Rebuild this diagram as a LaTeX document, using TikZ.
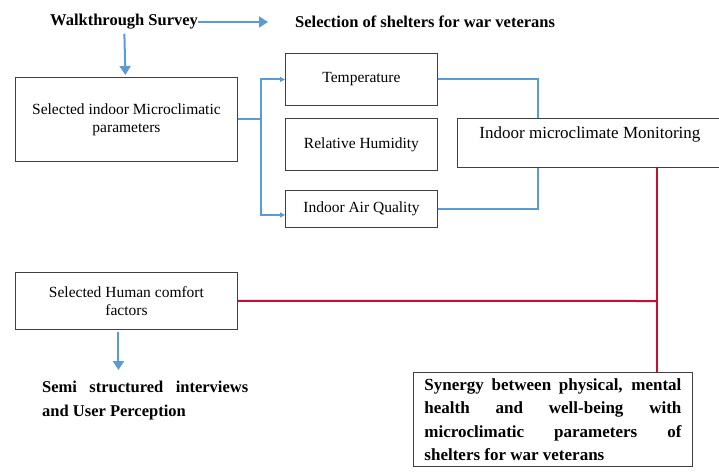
\documentclass[tikz,border=0pt]{standalone}
\usepackage{fontspec}
\setmainfont{Liberation Serif}
\usepackage{xcolor}
\usetikzlibrary{arrows.meta, positioning}
\definecolor{flowblue}{RGB}{91,155,213}
\definecolor{flowred}{RGB}{200,16,46}

\begin{document}
\begin{tikzpicture}[x=1pt, y=-1pt, inner sep=0pt,
    box/.style={draw=black!75, line width=0.9pt, align=center, anchor=north west, font=\fontsize{15.5}{18}\selectfont},
    title/.style={font=\bfseries\fontsize{16.5}{23.5}\selectfont},
    blueline/.style={draw=flowblue, line width=2pt},
    bluearrow/.style={blueline, -{Triangle[length=9pt,width=11pt]}},
    smallarrow/.style={blueline, -{Triangle[length=5pt,width=5pt]}},
    redline/.style={draw=flowred, line width=2pt}]
        \useasboundingbox (0,0) rectangle (719,473);
        \clip (0,0) rectangle (719,473);

        \node[title, anchor=west] (walk) at (50,22) {Walkthrough Survey};
        \node[title, anchor=west] (sel) at (295,22) {Selection of shelters for war veterans};
        \node[box, minimum width=222pt, minimum height=84pt] (micro) at (15,77) {Selected indoor Microclimatic\\parameters};
        \node[box, minimum width=152pt, minimum height=52pt] (temp) at (285,53) {Temperature};
        \node[box, minimum width=152pt, minimum height=52pt] (rh) at (285,118) {Relative Humidity};
        \node[box, minimum width=152pt, minimum height=37pt] (iaq) at (285,190) {Indoor Air Quality};
        \node[box, minimum width=265pt, minimum height=49pt, font=\fontsize{17}{20}\selectfont] (mon) at (457,118) {Indoor microclimate Monitoring\hspace{12pt}\\[0pt]};
        \node[box, minimum width=222pt, minimum height=57pt] (human) at (15,272) {Selected Human comfort\\factors};
        \node[title, anchor=north west, text width=206pt, align=justify] (semi) at (42,381)
            {Semi structured interviews\linebreak and User Perception};
        \node[box, font=\bfseries\fontsize{17}{23.5}\selectfont, text width=257pt, align=justify,
              inner xsep=11pt, inner ysep=6pt] (syn) at (413,372)
            {Synergy between physical, mental\linebreak health and well-being with\linebreak microclimatic parameters of\linebreak shelters for war veterans};
        \coordinate (join) at (657,301);

        \draw[bluearrow, shorten >=27pt] (walk) -- (sel);
        \draw[bluearrow, shorten <=4pt, shorten >=2pt] (walk) -- (micro);
        \draw[smallarrow] (micro.east) -- ++(23,0) |- (temp.west);
        \draw[smallarrow] (micro.east) -- ++(23,0) |- ([yshift=-6pt]iaq.west);
        \draw[blueline] (temp) -| ([xshift=-52pt]mon.north);
        \draw[blueline] (iaq) -| ([xshift=-52pt]mon.south);
        \draw[redline] (join |- mon.south) -- (join |- syn.north);
        \draw[redline] (human.east) -- (join);
        \draw[bluearrow, shorten <=2pt, shorten >=11pt] ([xshift=-8pt]human.south) -- ([xshift=-8pt]human.south |- semi.north);
\end{tikzpicture}
\end{document}
